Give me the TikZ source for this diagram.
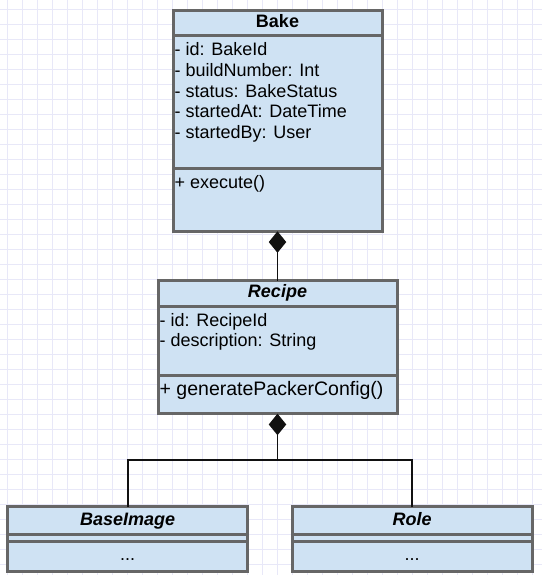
\documentclass[tikz,border=0pt]{standalone}
\usepackage{fontspec}
\setmainfont{Liberation Sans}
\usepackage{tikz}
\usetikzlibrary{arrows.meta, positioning}
\definecolor{classfill}{HTML}{CFE2F3}
\definecolor{classline}{HTML}{666666}
\definecolor{linkgray}{HTML}{111111}
\definecolor{gridline}{HTML}{E8E8F8}

\tikzset{
    classpart/.style={draw=classline, fill=classfill, line width=3pt, inner sep=0pt, outer sep=0pt,
        text height=13pt, text depth=4pt, font=\fontsize{18}{21}\selectfont},
    member/.style={inner sep=0pt, align=left, anchor=north west, font=\fontsize{18}{20.7}\selectfont},
    link/.style={draw=linkgray, line width=1.8pt},
    comp/.style={link, -{Diamond[length=21.5pt,width=17.5pt]}}
}

\begin{document}
\begin{tikzpicture}[x=1pt, y=-1pt]
        \useasboundingbox (0,0) rectangle (542,575);
        \foreach \x in {7.5,22.5,...,540} \draw[gridline, line width=1pt] (\x,0) -- (\x,575);
        \foreach \y in {9.5,24.5,...,575} \draw[gridline, line width=1pt] (0,\y) -- (542,\y);

        \node[classpart, minimum width=209pt, minimum height=25.2pt, anchor=north west] (bake) at (173,10.3) {\textbf{Bake}};
        \node[classpart, minimum width=209pt, minimum height=132.5pt, below=0pt of bake] (bakeattr) {};
        \node[classpart, minimum width=209pt, minimum height=63.3pt, below=0pt of bakeattr] (bakeops) {};
        \node[member] (bakeattrs) at ([xshift=1.5pt, yshift=-7pt]bakeattr.north west)
            {- id: BakeId\\- buildNumber: Int\\- status: BakeStatus\\- startedAt: DateTime\\- startedBy: User};
        \node[member] (bakeopss) at ([xshift=1.5pt, yshift=-7pt]bakeops.north west) {+ execute()};

        \node[classpart, minimum width=239pt, minimum height=25.5pt, anchor=north west] (recipe) at (158,280.5) {\textbf{\textit{Recipe}}};
        \node[classpart, minimum width=239pt, minimum height=69.3pt, below=0pt of recipe] (recipeattr) {};
        \node[classpart, minimum width=239pt, minimum height=38.4pt, below=0pt of recipeattr] (recipeops) {};
        \node[member] (recipeattrs) at ([xshift=1.5pt, yshift=-7pt]recipeattr.north west)
            {- id: RecipeId\\- description: String};
        \node[member, font=\fontsize{19.5}{22}\selectfont] (recipeopss) at ([xshift=1.5pt, yshift=-6pt]recipeops.north west) {+ generatePackerConfig()};

        \node[classpart, minimum width=239.7pt, minimum height=27.7pt, anchor=north west] (baseimage) at (7.8,506.8) {\textbf{\textit{BaseImage}}};
        \node[classpart, minimum width=239.7pt, minimum height=6.5pt, text height=0pt, text depth=0pt, below=0pt of baseimage] (baseimageattr) {};
        \node[classpart, minimum width=239.7pt, minimum height=30.4pt, below=0pt of baseimageattr] (baseimageops) {...};

        \node[classpart, minimum width=239.6pt, minimum height=27.7pt, anchor=north west] (role) at (292.4,506.8) {\textbf{\textit{Role}}};
        \node[classpart, minimum width=239.6pt, minimum height=6.5pt, text height=0pt, text depth=0pt, below=0pt of role] (roleattr) {};
        \node[classpart, minimum width=239.6pt, minimum height=30.4pt, below=0pt of roleattr] (roleops) {...};

        \coordinate (fork) at (recipeops.south |- 0,459.7);
        \draw[comp] (recipe.north) -- (bakeops.south);
        \draw[comp] (fork) -- (recipeops.south);
        \draw[link] (baseimage.north) |- (fork) -| (role.north);
    \end{tikzpicture}
\end{document}
